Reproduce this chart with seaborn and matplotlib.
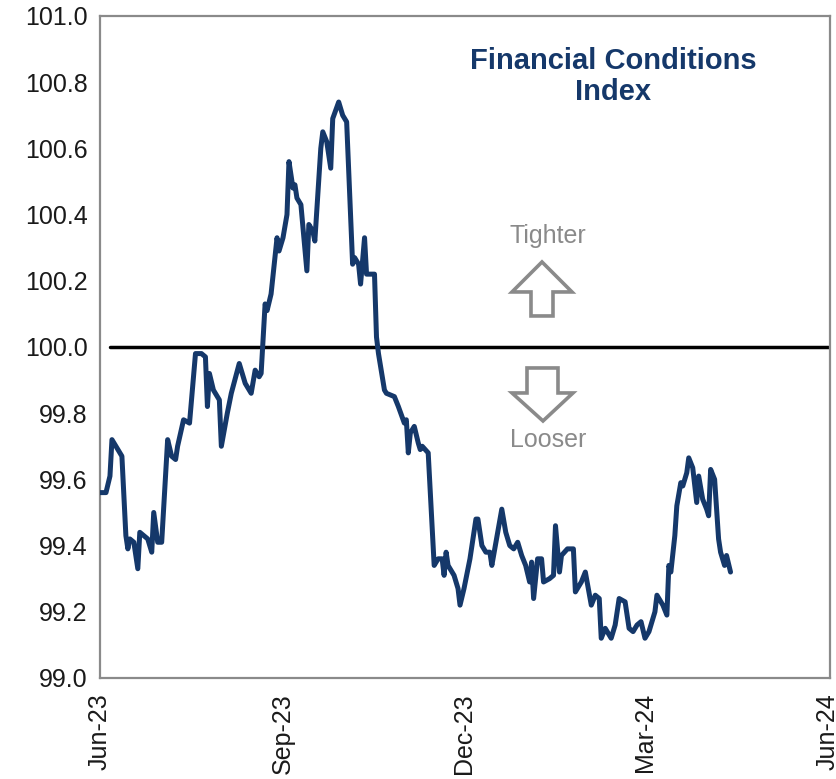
import matplotlib
matplotlib.use("Agg")
import matplotlib.pyplot as plt
import matplotlib.dates as mdates
from matplotlib.patches import Polygon
import pandas as pd
import seaborn as sns

# Financial conditions index readings (date, level; 100 = neutral)
dates = [
    "2023-06-01", "2023-06-04", "2023-06-06", "2023-06-07", "2023-06-10", "2023-06-12",
    "2023-06-14", "2023-06-15", "2023-06-16", "2023-06-18", "2023-06-20", "2023-06-21",
    "2023-06-25", "2023-06-27", "2023-06-28", "2023-06-30", "2023-07-02", "2023-07-05",
    "2023-07-07", "2023-07-09", "2023-07-10", "2023-07-13", "2023-07-16", "2023-07-19",
    "2023-07-22", "2023-07-24", "2023-07-25", "2023-07-26", "2023-07-28", "2023-07-31",
    "2023-08-01", "2023-08-04", "2023-08-06", "2023-08-10", "2023-08-13", "2023-08-15",
    "2023-08-16", "2023-08-18", "2023-08-20", "2023-08-21", "2023-08-23", "2023-08-24",
    "2023-08-26", "2023-08-29", "2023-08-30", "2023-09-01", "2023-09-03", "2023-09-04",
    "2023-09-06", "2023-09-07", "2023-09-08", "2023-09-10", "2023-09-13", "2023-09-14",
    "2023-09-16", "2023-09-17", "2023-09-20", "2023-09-21", "2023-09-23", "2023-09-25",
    "2023-09-26", "2023-09-29", "2023-10-01", "2023-10-03", "2023-10-06", "2023-10-07",
    "2023-10-09", "2023-10-10", "2023-10-12", "2023-10-13", "2023-10-15", "2023-10-17",
    "2023-10-18", "2023-10-19", "2023-10-22", "2023-10-23", "2023-10-27", "2023-10-29",
    "2023-11-01", "2023-11-02", "2023-11-03", "2023-11-04", "2023-11-06", "2023-11-08",
    "2023-11-09", "2023-11-10", "2023-11-13", "2023-11-16", "2023-11-18", "2023-11-20",
    "2023-11-21", "2023-11-22", "2023-11-23", "2023-11-26", "2023-11-28", "2023-11-29",
    "2023-12-01", "2023-12-04", "2023-12-07", "2023-12-08", "2023-12-10", "2023-12-12",
    "2023-12-14", "2023-12-15", "2023-12-20", "2023-12-22", "2023-12-24", "2023-12-26",
    "2023-12-28", "2023-12-30", "2024-01-01", "2024-01-03", "2024-01-04", "2024-01-05",
    "2024-01-07", "2024-01-09", "2024-01-10", "2024-01-13", "2024-01-15", "2024-01-16",
    "2024-01-18", "2024-01-19", "2024-01-22", "2024-01-25", "2024-01-26", "2024-01-29",
    "2024-01-31", "2024-02-03", "2024-02-05", "2024-02-07", "2024-02-08", "2024-02-10",
    "2024-02-13", "2024-02-15", "2024-02-17", "2024-02-20", "2024-02-22", "2024-02-24",
    "2024-02-26", "2024-02-28", "2024-03-01", "2024-03-03", "2024-03-06", "2024-03-07",
    "2024-03-10", "2024-03-12", "2024-03-13", "2024-03-14", "2024-03-16", "2024-03-17",
    "2024-03-19", "2024-03-20", "2024-03-22", "2024-03-23", "2024-03-25", "2024-03-27",
    "2024-03-28", "2024-03-30", "2024-04-01", "2024-04-02", "2024-04-03", "2024-04-05",
    "2024-04-07", "2024-04-08", "2024-04-10", "2024-04-11", "2024-04-13",
]
fci = [
    99.56, 99.56, 99.61, 99.72, 99.69, 99.67,
    99.43, 99.39, 99.42, 99.41, 99.33, 99.44,
    99.42, 99.38, 99.50, 99.41, 99.41, 99.72,
    99.67, 99.66, 99.70, 99.78, 99.77, 99.98,
    99.98, 99.97, 99.82, 99.92, 99.87, 99.84,
    99.70, 99.80, 99.86, 99.95, 99.89, 99.87,
    99.86, 99.93, 99.91, 99.92, 100.13, 100.11,
    100.16, 100.33, 100.29, 100.33, 100.40, 100.56,
    100.48, 100.49, 100.45, 100.43, 100.23, 100.37,
    100.35, 100.32, 100.60, 100.65, 100.62, 100.54,
    100.69, 100.74, 100.70, 100.68, 100.25, 100.27,
    100.25, 100.19, 100.33, 100.22, 100.22, 100.22,
    100.03, 99.98, 99.87, 99.86, 99.85, 99.82,
    99.77, 99.78, 99.68, 99.74, 99.76, 99.71,
    99.69, 99.70, 99.68, 99.34, 99.36, 99.36,
    99.31, 99.38, 99.34, 99.31, 99.27, 99.22,
    99.27, 99.36, 99.48, 99.48, 99.40, 99.38,
    99.38, 99.34, 99.51, 99.44, 99.40, 99.39,
    99.41, 99.37, 99.34, 99.29, 99.35, 99.24,
    99.36, 99.36, 99.29, 99.30, 99.31, 99.46,
    99.32, 99.37, 99.39, 99.39, 99.26, 99.29,
    99.32, 99.22, 99.25, 99.24, 99.12, 99.15,
    99.12, 99.16, 99.24, 99.23, 99.15, 99.14,
    99.16, 99.17, 99.12, 99.14, 99.20, 99.25,
    99.22, 99.19, 99.34, 99.32, 99.43, 99.52,
    99.59, 99.58, 99.62, 99.665, 99.635, 99.53,
    99.61, 99.54, 99.51, 99.49, 99.63, 99.60,
    99.42, 99.38, 99.34, 99.37, 99.32,
]
neutral_level = 100.0
y_ticks = [99.0, 99.2, 99.4, 99.6, 99.8, 100.0, 100.2, 100.4, 100.6, 100.8, 101.0]
x_ticks = ["2023-06-01", "2023-09-01", "2023-12-01", "2024-03-01", "2024-06-01"]

NAVY = "#15386a"
GREY = "#8a8a8a"

sns.set_style("white")
plt.rcParams["font.family"] = ["Liberation Sans", "DejaVu Sans"]

df = pd.DataFrame({"date": pd.to_datetime(dates), "fci": fci})

fig = plt.figure(figsize=(8.37, 7.79), dpi=100)
ax = fig.add_axes([0.1195, 0.1297, 0.8721, 0.8498])

sns.lineplot(data=df, x="date", y="fci", ax=ax, color=NAVY, linewidth=3.6,
             solid_joinstyle="round", solid_capstyle="round", zorder=3)

ax.axhline(neutral_level, xmin=0.0137, xmax=1.0, color="black", linewidth=2.5, zorder=2)

ax.set_xlim(pd.Timestamp("2023-06-01"), pd.Timestamp("2024-06-02"))
ax.set_ylim(y_ticks[0], y_ticks[-1])
ax.set_yticks(y_ticks)
ax.set_yticklabels([f"{v:.1f}" for v in y_ticks])
ax.set_xticks(pd.to_datetime(x_ticks))
ax.xaxis.set_major_formatter(mdates.DateFormatter("%b-%y"))
ax.set_xlabel("")
ax.set_ylabel("")

for spine in ax.spines.values():
    spine.set_color(GREY)
    spine.set_linewidth(1.6)
ax.tick_params(axis="both", which="major", direction="out", length=5, width=1.4,
               color=GREY, labelsize=18, labelcolor="#1a1a1a")
ax.tick_params(axis="x", pad=6, labelrotation=90)
ax.tick_params(axis="y", pad=4)
ax.grid(False)

# Title inside the plot area
ax.text(0.703, 0.953, "Financial Conditions\nIndex", transform=ax.transAxes,
        ha="center", va="top", fontsize=21, fontweight="bold", color=NAVY,
        linespacing=1.15)


def to_axes(px, py):
    return ((px - 100) / 730.0, (678 - py) / 662.0)


up_arrow = [(542, 262), (572, 292), (553, 292), (553, 316), (531, 316), (531, 292), (512, 292)]
down_arrow = [(527, 368), (558, 368), (558, 393), (573, 393), (543, 421), (512, 393), (527, 393)]
for shape in (up_arrow, down_arrow):
    ax.add_patch(Polygon([to_axes(*p) for p in shape], closed=True, transform=ax.transAxes,
                         facecolor="white", edgecolor=GREY, linewidth=2.6, joinstyle="miter",
                         zorder=4))

tx, ty = to_axes(548, 236)
ax.text(tx, ty, "Tighter", transform=ax.transAxes, ha="center", va="center",
        fontsize=18, color=GREY)
lx, ly = to_axes(548, 440)
ax.text(lx, ly, "Looser", transform=ax.transAxes, ha="center", va="center",
        fontsize=18, color=GREY)

fig.savefig("out.png", dpi=100)
